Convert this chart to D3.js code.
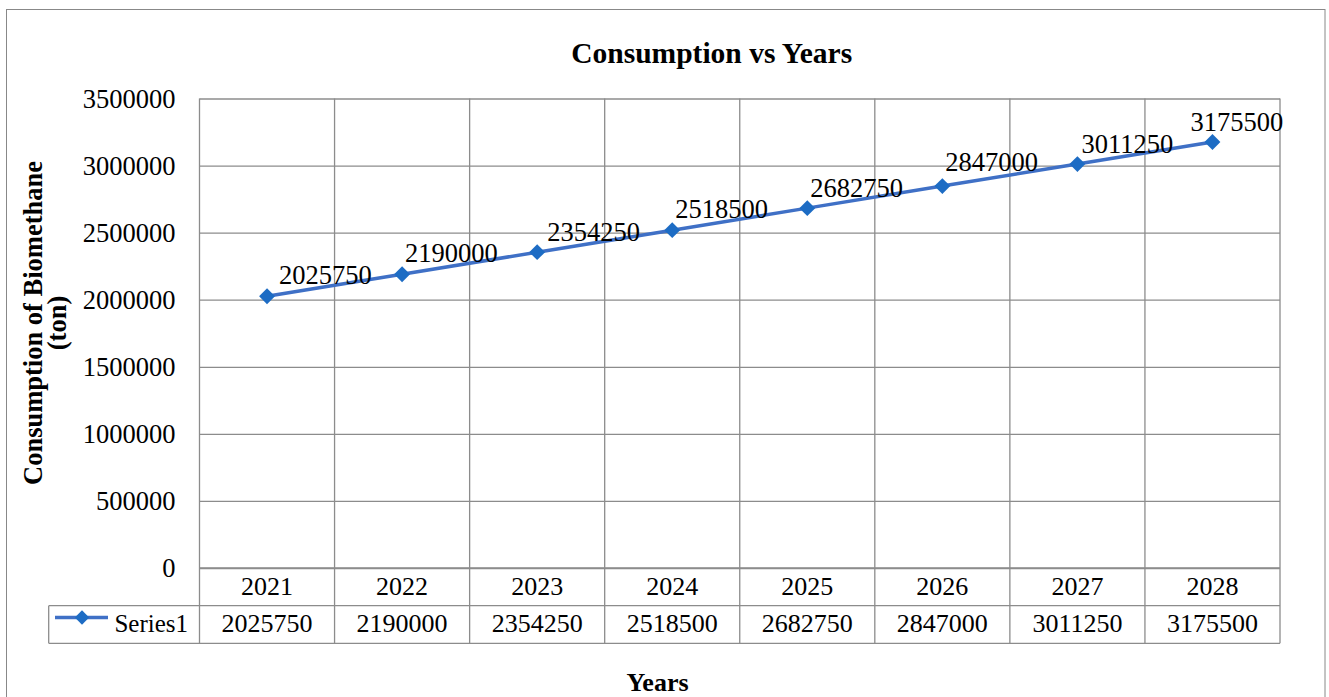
<!DOCTYPE html>
<html lang="en">
<head>
<meta charset="UTF-8">
<title>Consumption vs Years</title>
<script src="https://d3js.org/d3.v7.min.js"></script>
<style>
  body { margin: 0; background: #fff; }
  text { font-family: "Liberation Serif", "Times New Roman", serif; fill: #000; }
</style>
</head>
<body>
<div id="chart"></div>
<script>
// data
var years = ["2021", "2022", "2023", "2024", "2025", "2026", "2027", "2028"];
var consumption = [2025750, 2190000, 2354250, 2518500, 2682750, 2847000, 3011250, 3175500];
var yTicks = [0, 500000, 1000000, 1500000, 2000000, 2500000, 3000000, 3500000];
var seriesName = "Series1";

// label nudges (excel had them dragged around a bit)
var labelDx = [12, 3, 10, 3, 3, 3, 4, -22];
var labelDy = [-12.5, -12.5, -11, -12.5, -11.5, -15, -11.5, -11];

var W = 1329, H = 697;
var plotL = 199.5, plotR = 1280, plotT = 98.5, plotB = 568;
var row1 = 605.7, row2 = 643.3, legendLeft = 48.7;
var grid = "#8c8c8c", lineCol = "#3f70c6", markCol = "#1d6cc4";

var svg = d3.select("#chart").append("svg")
    .attr("width", W).attr("height", H);

// outer chart border
svg.append("rect")
    .attr("x", 6.5).attr("y", 9.5)
    .attr("width", 1325 - 6.5).attr("height", 720)
    .attr("fill", "none").attr("stroke", "#888").attr("stroke-width", 1);

var x = d3.scaleBand().domain(years).range([plotL, plotR]);
var y = d3.scaleLinear().domain([0, 3500000]).range([plotB, plotT]);

// horizontal gridlines + y labels
var yAx = svg.append("g")
    .attr("transform", "translate(" + plotL + ",0)")
    .call(d3.axisLeft(y).tickValues(yTicks).tickSize(-(plotR - plotL)).tickPadding(24).tickFormat(d3.format("d")));
yAx.select(".domain").remove();
yAx.selectAll("line").attr("stroke", grid).attr("stroke-width", 1.3);
yAx.selectAll("text")
    .style("font-size", "26.5px")
    .style("font-family", "'Liberation Serif', 'Times New Roman', serif")
    .attr("fill", "#000")
    .attr("dy", "0.33em");

// vertical lines: category borders, running through the data table
var edges = years.map(function(d) { return x(d); }).concat([plotR]);
svg.selectAll(".vline").data(edges).enter().append("line")
    .attr("x1", function(d) { return d; }).attr("x2", function(d) { return d; })
    .attr("y1", plotT).attr("y2", row2)
    .attr("stroke", grid).attr("stroke-width", 1.3);

// table horizontals
svg.append("line").attr("x1", plotL).attr("x2", plotR).attr("y1", plotB).attr("y2", plotB)
    .attr("stroke", grid).attr("stroke-width", 1.3);
svg.append("line").attr("x1", legendLeft).attr("x2", plotR).attr("y1", row1).attr("y2", row1)
    .attr("stroke", grid).attr("stroke-width", 1.3);
svg.append("line").attr("x1", legendLeft).attr("x2", plotR).attr("y1", row2).attr("y2", row2)
    .attr("stroke", grid).attr("stroke-width", 1.3);
svg.append("line").attr("x1", legendLeft).attr("x2", legendLeft).attr("y1", row1).attr("y2", row2)
    .attr("stroke", grid).attr("stroke-width", 1.3);

// table text
svg.selectAll(".yr").data(years).enter().append("text")
    .attr("x", function(d) { return x(d) + x.bandwidth() / 2; })
    .attr("y", 595)
    .attr("text-anchor", "middle")
    .style("font-size", "26px")
    .text(function(d) { return d; });

svg.selectAll(".val").data(consumption).enter().append("text")
    .attr("x", function(d, i) { return x(years[i]) + x.bandwidth() / 2; })
    .attr("y", 631.7)
    .attr("text-anchor", "middle")
    .style("font-size", "26px")
    .text(function(d) { return d; });

// legend key in table
svg.append("line").attr("x1", 55).attr("x2", 108).attr("y1", 617.5).attr("y2", 617.5)
    .attr("stroke", lineCol).attr("stroke-width", 3.5);
svg.append("path")
    .attr("d", d3.symbol().type(d3.symbolDiamond2).size(130))
    .attr("transform", "translate(82,617.5)")
    .attr("fill", markCol);
svg.append("text").attr("x", 188).attr("y", 631.7)
    .attr("text-anchor", "end")
    .style("font-size", "25px")
    .text(seriesName);

// series line
var line = d3.line()
    .x(function(d, i) { return x(years[i]) + x.bandwidth() / 2; })
    .y(function(d) { return y(d); });

svg.append("path")
    .datum(consumption)
    .attr("d", line)
    .attr("fill", "none")
    .attr("stroke", lineCol)
    .attr("stroke-width", 3.5);

svg.selectAll(".mark").data(consumption).enter().append("path")
    .attr("d", d3.symbol().type(d3.symbolDiamond2).size(160))
    .attr("transform", function(d, i) {
        return "translate(" + (x(years[i]) + x.bandwidth() / 2) + "," + y(d) + ")";
    })
    .attr("fill", markCol);

// data labels
svg.selectAll(".lbl").data(consumption).enter().append("text")
    .attr("x", function(d, i) { return x(years[i]) + x.bandwidth() / 2 + labelDx[i]; })
    .attr("y", function(d, i) { return y(d) + labelDy[i]; })
    .style("font-size", "26.5px")
    .text(function(d) { return d; });

// titles
svg.append("text")
    .attr("x", 711.7).attr("y", 63)
    .attr("text-anchor", "middle")
    .style("font-size", "29.5px").style("font-weight", "bold")
    .text("Consumption vs Years");

var yt = svg.append("text")
    .attr("transform", "translate(0,323) rotate(-90)")
    .attr("text-anchor", "middle")
    .style("font-size", "26.5px").style("font-weight", "bold");
yt.append("tspan").attr("x", 0).attr("y", 42).text("Consumption of Biomethane");
yt.append("tspan").attr("x", 0).attr("y", 66).text("(ton)");

svg.append("text")
    .attr("x", 657.5).attr("y", 690.7)
    .attr("text-anchor", "middle")
    .style("font-size", "26px").style("font-weight", "bold")
    .text("Years");
</script>
</body>
</html>
